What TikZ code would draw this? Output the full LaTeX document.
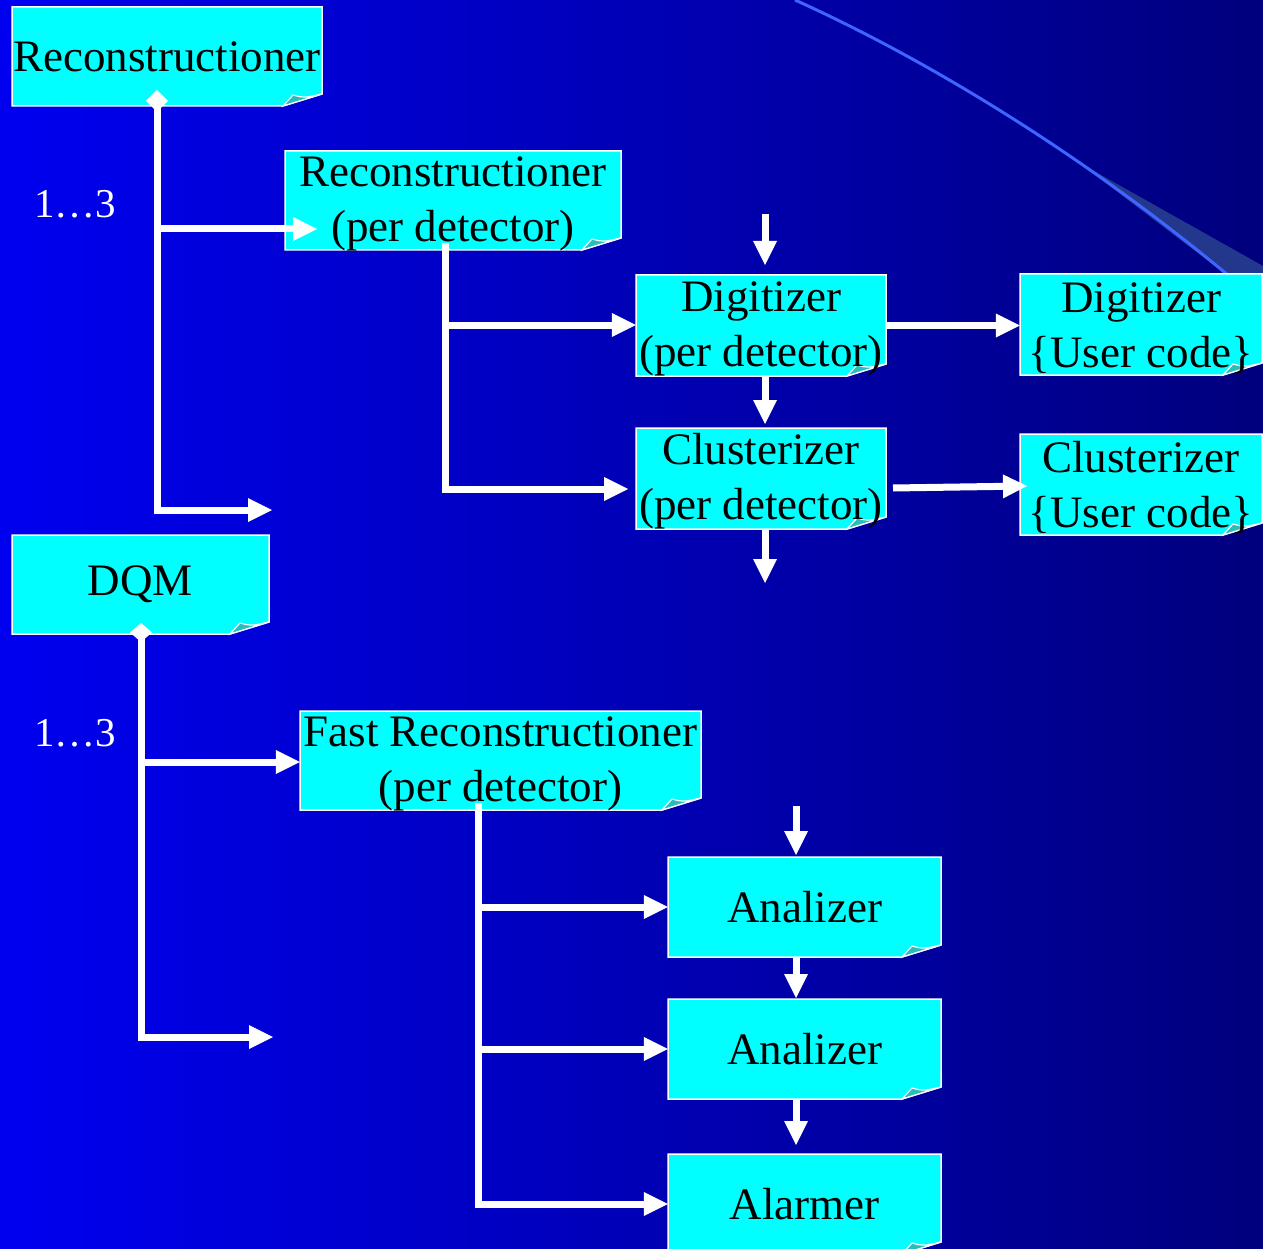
\documentclass[tikz,border=0pt]{standalone}
\usepackage{fontspec}
\setmainfont{Liberation Serif}
\usetikzlibrary{arrows.meta}

\definecolor{bgleft}{RGB}{0,0,240}
\definecolor{bgmid}{RGB}{0,0,205}
\definecolor{bgright}{RGB}{0,0,125}
\definecolor{notecyan}{RGB}{0,255,255}
\definecolor{notefoldc}{RGB}{40,190,190}
\definecolor{arcline}{RGB}{64,100,255}
\definecolor{arcshade}{RGB}{35,55,140}

\tikzset{
  notebody/.style={fill=notecyan, draw=white, line width=1.5pt},
  notefold/.style={fill=notefoldc, draw=white, line width=1.2pt},
  notetext/.style={inner sep=0pt, align=center, text=black,
    font=\fontsize{45}{55}\selectfont},
  countlabel/.style={inner sep=0pt, text=white, font=\fontsize{41}{50}\selectfont},
  wire/.style={draw=white, line width=7pt},
  arr/.style={wire, -{Triangle[length=24pt,width=24pt,line width=0pt]}},
  tree/.style={wire, {Diamond[length=#1,width=22pt,line width=0pt]}-{Triangle[length=24pt,width=24pt,line width=0pt]}},
}

% taller first line for two-line cards
\newcommand\toplinestrut{\rule{0pt}{37pt}}

% note card with a turned-up lower right corner:
% #1 name, #2 left, #3 top, #4 right, #5 bottom, #6 text
\newcommand\notecard[6]{%
  \filldraw[notebody] (#2,#3) -- (#4,#3) -- (#4,#5-12) -- (#4-39,#5) -- (#2,#5) -- cycle;
  \filldraw[notefold] (#4-39,#5) -- (#4-29,#5-11) .. controls (#4-18,#5-8) .. (#4,#5-12) -- cycle;
  \node[notetext, minimum width={#4-#2}, minimum height={#5-#3}] (#1)
    at ({(#2+#4)/2},{(#3+#5)/2}) {#6};
}

\begin{document}
\begin{tikzpicture}[x=1pt,y=-1pt]
\useasboundingbox (0,0) rectangle (1263,1249);
\clip (0,0) rectangle (1263,1249);

% background
\shade[left color=bgleft, middle color=bgmid, right color=bgright] (0,0) rectangle (1263,1249);

% decorative arc with its shadow
\fill[arcshade] (1078,162) -- (1236,282) -- (1263,282) -- (1263,266) -- cycle;
\draw[arcline, line width=3pt] (795,0) .. controls (950,70) and (1120,180) .. (1263,305);

% cards
\notecard{reco}{12}{7}{322}{106}{Reconstructioner}
\notecard{recodet}{285}{151}{621}{250}{\toplinestrut Reconstructioner\\(per detector)}
\notecard{dig}{636}{275}{886}{376}{\toplinestrut Digitizer\\(per detector)}
\notecard{diguser}{1020}{274}{1262}{375}{\toplinestrut Digitizer\\\{User code\}}
\notecard{clu}{636}{428}{886}{529}{\toplinestrut Clusterizer\\(per detector)}
\notecard{cluuser}{1020}{434}{1262}{535}{\toplinestrut Clusterizer\\\{User code\}}
\notecard{dqm}{12}{535}{269}{634}{DQM}
\notecard{fast}{300}{711}{701}{810}{\toplinestrut Fast Reconstructioner\\(per detector)}
\notecard{ana1}{668}{857}{941}{957}{Analizer}
\notecard{ana2}{668}{999}{941}{1099}{Analizer}
\notecard{alarm}{668}{1154}{941}{1254}{Alarmer}

% multiplicity labels
\node[countlabel] (cnt1) at (75,204) {1…3};
\node[countlabel] (cnt2) at (75,733) {1…3};

% reconstruction tree
\coordinate (recoT) at (157,90);
\coordinate (recoE) at (272,510);
\coordinate (recoJ) at (157,229);
\coordinate (recodetIn) at (317,229);
\draw[tree=22pt] (recoT) |- (recoE);
\draw[arr] (recoJ) -- (recodetIn);

\coordinate (detT) at (445,243);
\coordinate (detJ) at (445,325);
\coordinate (detE) at (628,489);
\draw[arr] (detT) |- (detE);
\draw[arr] (detJ) -- (detJ -| dig.west);

% digitizer / clusterizer chain
\coordinate (digIn) at (765,214);
\coordinate (digInTip) at (765,265);
\coordinate (cluInTip) at (765,424);
\coordinate (cluOut) at (765,583);
\draw[arr] (digIn) -- (digInTip);
\draw[arr] (dig.south -| digIn) -- (cluInTip);
\draw[arr] (clu.south -| digIn) -- (cluOut);
\draw[arr] (dig.east) -- (dig.east -| diguser.west);
\coordinate (cluA) at (893,488);
\coordinate (cluB) at (1027,486);
\draw[arr] (cluA) -- (cluB);

% DQM tree
\coordinate (dqmT) at (141,623);
\coordinate (dqmE) at (273,1037);
\coordinate (dqmJ) at (141,762);
\draw[tree=19pt] (dqmT) |- (dqmE);
\draw[arr] (dqmJ) -- (dqmJ -| fast.west);

\coordinate (fastT) at (478,803);
\draw[arr] (fastT) |- (alarm.west);
\draw[arr] (fastT |- ana1.west) -- (ana1.west);
\draw[arr] (fastT |- ana2.west) -- (ana2.west);

% analysis chain
\coordinate (anaIn) at (796,806);
\coordinate (anaInTip) at (796,855);
\coordinate (ana2Tip) at (796,998);
\coordinate (alarmTip) at (796,1145);
\draw[arr] (anaIn) -- (anaInTip);
\draw[arr] (ana1.south -| anaIn) -- (ana2Tip);
\draw[arr] (ana2.south -| anaIn) -- (alarmTip);
\end{tikzpicture}
\end{document}
